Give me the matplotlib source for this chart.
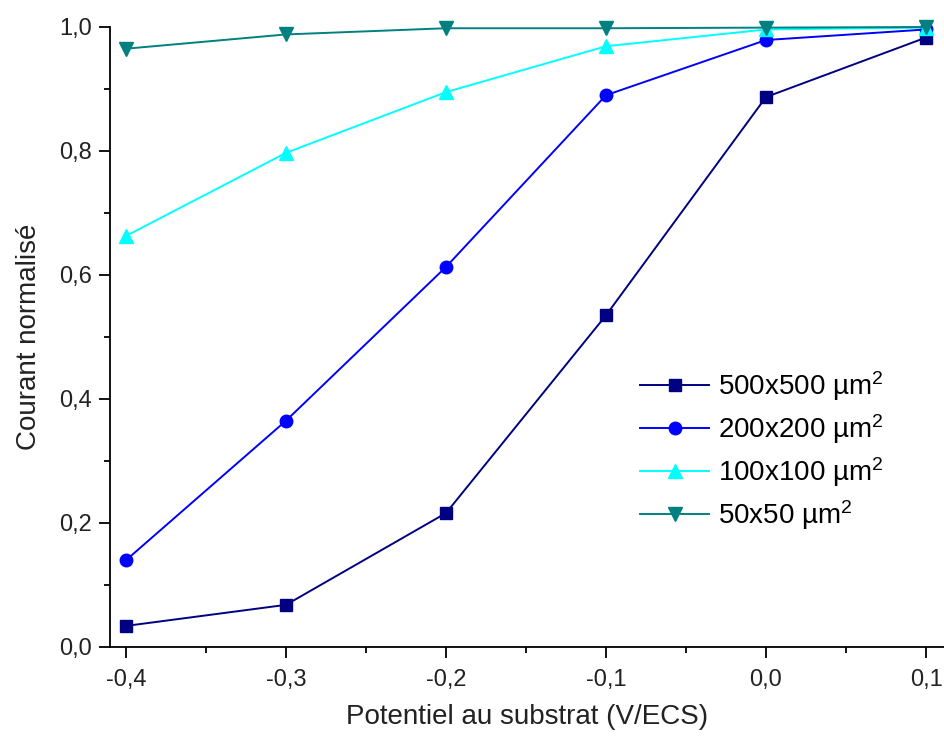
import numpy as np
import matplotlib.pyplot as plt
from matplotlib.ticker import MultipleLocator, FuncFormatter

plt.rcParams['font.family'] = ['Liberation Sans', 'DejaVu Sans']
plt.rcParams['mathtext.fontset'] = 'custom'
plt.rcParams['mathtext.rm'] = 'Liberation Sans'
plt.rcParams['mathtext.it'] = 'Liberation Sans'

# potentials (V/ECS)
potentiel = [-0.4, -0.3, -0.2, -0.1, 0.0, 0.1]

# normalised current for each electrode size
i_500 = [0.034, 0.068, 0.216, 0.535, 0.887, 0.983]
i_200 = [0.140, 0.365, 0.613, 0.890, 0.979, 0.996]
i_100 = [0.663, 0.797, 0.895, 0.969, 0.996, 0.999]
i_50 = [0.965, 0.988, 0.998, 0.998, 0.999, 1.000]

labels = ['500x500 µm$^2$', '200x200 µm$^2$', '100x100 µm$^2$', '50x50 µm$^2$']


def virgule(v, pos):
    return ('%.1f' % v).replace('.', ',')


fig = plt.figure(figsize=(9.44, 7.40), dpi=100)
ax = fig.add_axes([110 / 944, 93 / 740, 834 / 944, 620 / 740])

ax.plot(potentiel, i_500, color='#000080', marker='s', markersize=8.5, lw=1.4,
        label=labels[0], clip_on=False, zorder=3)
ax.plot(potentiel, i_200, color='#0000ff', marker='o', markersize=9, lw=1.4,
        label=labels[1], clip_on=False, zorder=3)
ax.plot(potentiel, i_100, color='#00ffff', marker='^', markersize=10, lw=1.4,
        label=labels[2], clip_on=False, zorder=3)
ax.plot(potentiel, i_50, color='#008080', marker='v', markersize=10, lw=1.4,
        label=labels[3], clip_on=False, zorder=3)

ax.set_xlim(-0.41, 0.11125)
ax.set_ylim(0, 1.0)
ax.xaxis.set_major_locator(MultipleLocator(0.1))
ax.xaxis.set_minor_locator(MultipleLocator(0.05))
ax.yaxis.set_major_locator(MultipleLocator(0.2))
ax.yaxis.set_minor_locator(MultipleLocator(0.1))
ax.xaxis.set_major_formatter(FuncFormatter(virgule))
ax.yaxis.set_major_formatter(FuncFormatter(virgule))

ax.spines['top'].set_visible(False)
ax.spines['right'].set_visible(False)
ax.spines['left'].set_linewidth(1.3)
ax.spines['bottom'].set_linewidth(1.3)
ax.tick_params(which='major', direction='out', length=8, width=1.3,
               labelsize=17, colors='black', labelcolor='#222222')
ax.tick_params(axis='x', which='major', pad=8)
ax.tick_params(axis='y', which='major', pad=5)
ax.tick_params(which='minor', direction='out', length=4.5, width=1.3)

ax.set_xlabel('Potentiel au substrat (V/ECS)', fontsize=20, color='#222222', labelpad=9)
ax.set_ylabel('Courant normalisé', fontsize=20, color='#222222', labelpad=12)

ax.legend(loc='upper left', bbox_to_anchor=(0.622, 0.466), frameon=False,
          fontsize=20, handlelength=2.5, labelspacing=0.33, handletextpad=0.3,
          borderaxespad=0)

plt.savefig('out.png', dpi=100)
